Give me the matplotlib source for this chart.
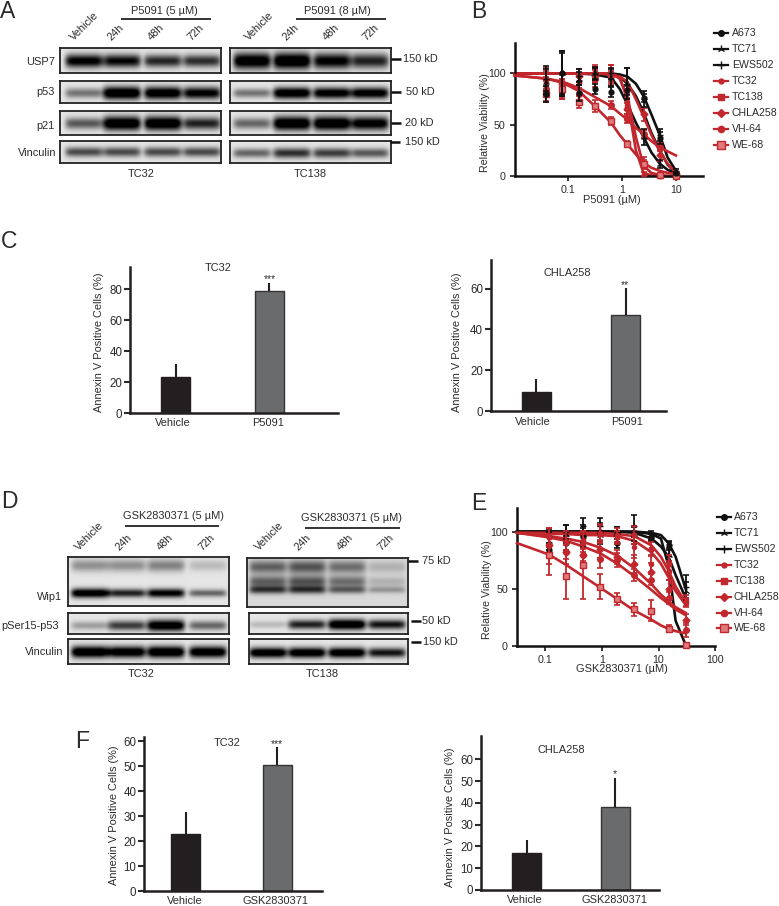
import numpy as np
import matplotlib
matplotlib.use("Agg")
import matplotlib.pyplot as plt

plt.rcParams['font.family'] = ['Liberation Sans', 'DejaVu Sans']

W, H = 779, 906
TXT = '#2b2b2b'
BLK = '#111111'
RED = '#c1272d'

# --- viability data, panel B ---
series_names = ['A673', 'TC71', 'EWS502', 'TC32', 'TC138', 'CHLA258', 'VH-64', 'WE-68']
series_colors = [BLK, BLK, BLK, RED, RED, RED, RED, RED]
series_markers = ['o', '2', '+', 'o', 's', 'D', 'o', 's']
series_sizes = [3.5, 5, 5, 3, 3.5, 3.5, 4, 5]

b_conc = [0.039, 0.078, 0.156, 0.3125, 0.625, 1.25, 2.5, 5, 10]
b_means = [
    [80, 100, 81, 85, 82, 84, 76, 37, 3],
    [92, 100, 95, 100, 96, 90, 38, 12, 3],
    [95, 100, 98, 100, 100, 90, 75, 40, 5],
    [92, 85, 98, 100, 100, 72, 2, 0, 0],
    [85, 85, 92, 100, 96, 68, 13, 0, 0],
    [95, 90, 98, 98, 98, 65, 60, 20, 2],
    [85, 83, 80, 95, 69, 56, 41, 28, 3],
    [80, 85, 72, 68, 54, 31, 12, 1, 0],
]
b_errs = [
    [8, 22, 8, 5, 5, 5, 4, 6, 1],
    [12, 20, 6, 6, 8, 15, 8, 4, 1],
    [12, 22, 6, 5, 5, 15, 8, 6, 2],
    [10, 10, 6, 8, 8, 8, 2, 1, 1],
    [12, 10, 6, 6, 6, 8, 6, 1, 1],
    [10, 10, 6, 6, 10, 6, 6, 5, 1],
    [8, 8, 6, 8, 4, 4, 4, 4, 1],
    [8, 8, 6, 6, 4, 3, 4, 1, 1],
]
b_curve_x = [0.0101, 0.039, 0.078, 0.156, 0.3125, 0.625, 0.9, 1.25, 1.8, 2.5, 3.5, 5, 7, 10]
b_curves = [
    [100, 100, 100, 100, 100, 99, 97, 90, 78, 62, 42, 25, 11, 3],
    [100, 100, 100, 100, 99, 96, 85, 70, 52, 38, 23, 12, 6, 3],
    [100, 100, 100, 100, 100, 100, 99, 97, 90, 78, 60, 40, 18, 5],
    [100, 100, 100, 100, 100, 100, 96, 75, 25, 3, 0.5, 0, 0, 0],
    [100, 100, 100, 100, 100, 100, 95, 78, 38, 10, 3, 1, 0, 0],
    [100, 100, 100, 100, 100, 99, 97, 92, 75, 58, 40, 24, 12, 3],
    [98, 95, 92, 86, 77, 68, 61, 55, 47, 41, 34, 28, 24, 20],
    [98, 95, 91, 83, 68, 52, 40, 31, 21, 13, 8, 5, 3, 2],
]

# --- viability data, panel E ---
e_conc = [0.117, 0.234, 0.469, 0.94, 1.88, 3.75, 7.5, 15, 30]
e_means = [
    [84, 90, 95, 100, 90, 98, 95, 88, 1],
    [92, 98, 98, 97, 100, 97, 96, 80, 48],
    [96, 100, 105, 105, 100, 105, 98, 85, 52],
    [95, 92, 93, 99, 97, 87, 72, 66, 38],
    [95, 91, 90, 98, 95, 97, 85, 72, 40],
    [88, 82, 80, 85, 78, 72, 65, 50, 23],
    [80, 82, 80, 76, 75, 62, 58, 42, 14],
    [80, 61, 71, 52, 41, 32, 31, 15, 1],
]
e_errs = [
    [3, 6, 8, 8, 4, 6, 3, 4, 1],
    [8, 8, 8, 8, 4, 8, 3, 6, 8],
    [6, 6, 7, 7, 4, 10, 3, 6, 10],
    [8, 8, 8, 8, 6, 10, 8, 8, 4],
    [8, 10, 8, 8, 6, 8, 6, 8, 5],
    [8, 6, 6, 8, 6, 8, 8, 8, 5],
    [8, 10, 8, 8, 6, 5, 5, 5, 6],
    [18, 20, 30, 11, 5, 6, 9, 3, 1],
]
e_curve_x = [0.032, 0.117, 0.234, 0.469, 0.94, 1.88, 3.75, 7.5, 11, 15, 20, 30]
e_curves = [
    [100, 100, 100, 100, 100, 100, 100, 98, 94, 70, 22, 1],
    [100, 100, 100, 100, 100, 100, 99, 94, 87, 78, 62, 42],
    [100, 100, 100, 100, 100, 100, 100, 99, 97, 90, 78, 50],
    [99, 99, 99, 99, 99, 98, 96, 88, 78, 66, 52, 38],
    [99, 98, 98, 97, 97, 96, 92, 82, 72, 60, 48, 36],
    [99, 96, 94, 91, 86, 79, 68, 54, 45, 39, 34, 29],
    [99, 95, 92, 87, 81, 72, 61, 49, 42, 37, 32, 27],
    [90, 80, 71, 61, 51, 41, 31, 23, 18, 15, 13, 11],
]

# --- annexin bars ---
c1_vals, c1_errs = [23, 79], [8.5, 5]
c2_vals, c2_errs = [9.5, 47], [6, 13.5]
f1_vals, f1_errs = [23, 50.5], [8.5, 7]
f2_vals, f2_errs = [17, 38.3], [6, 13]

# --- western blot band darkness, one value per lane ---
usp7_tc32 = [0.85, 0.8, 0.68, 0.65]
usp7_tc138 = [0.95, 1.0, 0.85, 0.7]
p53_tc32 = [0.4, 1.0, 0.95, 0.85]
p53_tc138 = [0.4, 0.95, 0.9, 0.9]
p21_tc32 = [0.5, 1.0, 1.0, 0.7]
p21_tc138 = [0.45, 1.0, 1.0, 0.9]
vinc_tc32 = [0.55, 0.55, 0.55, 0.55]
vinc_tc138 = [0.45, 0.65, 0.6, 0.5]
wip1_tc32 = [0.95, 0.7, 0.85, 0.45]
wip1_upper_tc32 = [0.3, 0.3, 0.35, 0.15]
wip1_tc138 = [0.6, 0.6, 0.45, 0.25]
wip1_upper_tc138 = [0.45, 0.5, 0.4, 0.15]
pser_tc32 = [0.25, 0.6, 0.95, 0.45]
pser_tc138 = [0.15, 0.7, 1.0, 0.75]
vinc2_tc32 = [1.0, 0.95, 1.0, 0.95]
vinc2_tc138 = [0.95, 0.95, 0.95, 0.75]

fig = plt.figure(figsize=(W / 100, H / 100), dpi=100)


def ax_px(x0, y0, x1, y1, **kw):
    # axes placed by pixel box, y counted from the top
    return fig.add_axes([x0 / W, 1 - y1 / H, (x1 - x0) / W, (y1 - y0) / H], **kw)


def blot(x0, y0, x1, y1, lanes, bands, bg=0.9, width=19):
    # bands: (centre as fraction of height, half thickness in px, darkness per lane)
    ax = ax_px(x0, y0, x1, y1)
    h, w = int(y1 - y0) * 2, int(x1 - x0) * 2
    xx = np.linspace(x0, x1, w)[None, :]
    yy = np.linspace(y0, y1, h)[:, None]
    img = np.ones((h, w))
    for frac, thick, dark in bands:
        yc = y0 + frac * (y1 - y0)
        for lx, d in zip(lanes, dark):
            t = thick * (0.75 + 0.45 * d)
            img = img - 1.25 * d * np.exp(-((xx - lx) / width) ** 8) * np.exp(-((yy - yc) / t) ** 2)
    ax.imshow(np.clip(img, 0, 1) * bg, cmap='gray', vmin=0, vmax=1, aspect='auto')
    ax.set_xticks([])
    ax.set_yticks([])
    for s in ax.spines.values():
        s.set_linewidth(1.3)
        s.set_color('#222222')


def bars(x0, y0, x1, y1, ymax, yticks, centers, vals, errs, width=29):
    ax = ax_px(x0, y0, x1, y1)
    ax.patch.set_alpha(0)
    ax.set_xlim(x0, x1)
    ax.set_ylim(0, ymax)
    ax.bar(centers, vals, width=width, color=['#231f20', '#6a6b6d'], edgecolor=['#231f20', '#333333'], linewidth=1)
    ax.errorbar(centers, vals, yerr=[[0, 0], errs], fmt='none', ecolor='#231f20', elinewidth=1.5, capsize=0)
    ax.spines[['top', 'right']].set_visible(False)
    ax.spines[['left', 'bottom']].set_linewidth(1.8)
    ax.spines[['left', 'bottom']].set_color('#231f20')
    ax.set_yticks(yticks)
    ax.set_xticks([])
    ax.tick_params(axis='y', length=4, width=1.5, labelsize=8.3, pad=1.5, colors=TXT)


def viability(x0, y0, x1, y1, xlim, ymax, conc, means, errs, curve_x, curves, xticks, xlabels, black_top=False):
    ax = ax_px(x0, y0, x1, y1)
    ax.patch.set_alpha(0)
    ax.set_xscale('log')
    ax.set_xlim(*xlim)
    ax.set_ylim(0, ymax)
    for i in range(len(means)):
        c = series_colors[i]
        z = i * 0.1
        if black_top and c == BLK:
            z = 1 + i * 0.1
        mfc = '#dd7a7d' if series_names[i] == 'WE-68' else c
        ax.plot(curve_x, curves[i], color=c, lw=1.9, zorder=2 + i * 0.1, clip_on=False)
        ax.errorbar(conc, means[i], yerr=errs[i], fmt=series_markers[i], color=c, mfc=mfc, ms=series_sizes[i],
                    elinewidth=1.3, capsize=2, capthick=1.2, zorder=3 + z, clip_on=False)
    ax.spines[['top', 'right']].set_visible(False)
    ax.spines[['left', 'bottom']].set_linewidth(1.8)
    ax.spines[['left', 'bottom']].set_color('#111111')
    ax.set_yticks([0, 50, 100])
    ax.set_xticks(xticks)
    ax.set_xticklabels(xlabels)
    ax.minorticks_off()
    ax.tick_params(axis='both', length=3.5, width=1.3, labelsize=7.7, pad=3, colors=TXT)


# panel A blots
lanes_a1 = [84, 122, 163, 202]
lanes_a2 = [252, 292, 332, 370]
blot(60, 48, 221, 73, lanes_a1, [(0.52, 6, usp7_tc32)])
blot(230, 48, 391, 73, lanes_a2, [(0.52, 7, usp7_tc138)])
blot(60, 81, 221, 103, lanes_a1, [(0.55, 5.5, p53_tc32)])
blot(230, 81, 391, 103, lanes_a2, [(0.55, 5, p53_tc138)])
blot(60, 111, 221, 135, lanes_a1, [(0.52, 6, p21_tc32)])
blot(230, 111, 391, 135, lanes_a2, [(0.52, 6, p21_tc138)])
blot(60, 141, 221, 163, lanes_a1, [(0.5, 5, vinc_tc32)])
blot(230, 141, 391, 163, lanes_a2, [(0.55, 5, vinc_tc138)])

# panel D blots
lanes_d1 = [90, 127, 166, 208]
lanes_d2 = [268, 307, 347, 387]
blot(68, 557, 229, 606, lanes_d1, [(0.17, 7, wip1_upper_tc32), (0.74, 4, wip1_tc32)])
blot(247, 558, 408, 607, lanes_d2, [(0.18, 7, wip1_upper_tc138), (0.48, 6, wip1_upper_tc138), (0.65, 4, wip1_tc138)], bg=0.85)
blot(68, 613, 229, 634, lanes_d1, [(0.6, 5, pser_tc32)])
blot(249, 613, 408, 634, lanes_d2, [(0.55, 4.5, pser_tc138)])
blot(68, 639, 229, 664, lanes_d1, [(0.52, 5, vinc2_tc32)])
blot(249, 639, 408, 664, lanes_d2, [(0.55, 4.5, vinc2_tc138)])

# viability curves
viability(514.7, 42.7, 703, 176, (0.0101, 31.8), 130, b_conc, b_means, b_errs, b_curve_x, b_curves,
          [0.1, 1, 10], ['0.1', '1', '10'], black_top=True)
viability(517, 508, 715.3, 646, (0.032, 100), 120.7, e_conc, e_means, e_errs, e_curve_x, e_curves,
          [0.1, 1, 10, 100], ['0.1', '1', '10', '100'])

# bar panels
bars(130, 267, 338, 413, 94.4, [0, 20, 40, 60, 80], [175.5, 269], c1_vals, c1_errs)
bars(490.7, 260, 666, 411, 74, [0, 20, 40, 60], [536, 625.5], c2_vals, c2_errs)
bars(144, 737, 322, 891, 61.7, [0, 10, 20, 30, 40, 50, 60], [185.5, 277], f1_vals, f1_errs)
bars(481, 736, 659, 890, 70.7, [0, 10, 20, 30, 40, 50, 60], [526.5, 615], f2_vals, f2_errs)

# everything else goes on a pixel overlay
ov = ax_px(0, 0, W, H)
ov.set_xlim(0, W)
ov.set_ylim(H, 0)
ov.axis('off')
ov.patch.set_alpha(0)


def txt(x, y, s, size=7.9, ha='center', va='center', rot=0, **kw):
    ov.text(x, y, s, fontsize=size, ha=ha, va=va, rotation=rot, color=TXT, **kw)


def hline(x0, x1, y, lw=1.2):
    ov.plot([x0, x1], [y, y], color='#111111', lw=lw, solid_capstyle='butt')


# panel letters
for letter, x, y in [('A', 0, 11), ('B', 471, 11), ('C', 1, 241), ('D', 1, 502), ('E', 471, 503), ('F', 75, 742)]:
    txt(x, y, letter, size=16.5, ha='left')

# lane headers
lane_names = ['Vehicle', '24h', '48h', '72h']
for xs, ys in [([75, 113, 153, 193], 42), ([250, 288, 328, 368], 42),
               ([80, 121, 162, 204], 552), ([260, 300, 342, 383], 552)]:
    for x, name in zip(xs, lane_names):
        txt(x, ys, name, ha='left', va='bottom', rot=45, rotation_mode='anchor')

txt(164, 11, 'P5091 (5 µM)')
hline(121, 211, 19)
txt(337, 11, 'P5091 (8 µM)')
hline(296, 386, 19)
txt(174, 516, 'GSK2830371 (5 µM)')
hline(125, 219, 526)
txt(352, 518, 'GSK2830371 (5 µM)')
hline(305, 400, 528)

# row names
for name, x, y in [('USP7', 55, 62), ('p53', 55, 92), ('p21', 55, 126), ('Vinculin', 56, 153),
                   ('Wip1', 62, 597), ('pSer15-p53', 59, 626), ('Vinculin', 63, 652)]:
    txt(x, y, name, ha='right')

# size markers
for x0, x1, y, label, xt in [(391, 401, 59, '150 kD', 403), (391, 401, 92, '50 kD', 406), (391, 401, 123, '20 kD', 405),
                             (390, 400, 142, '150 kD', 405), (408, 418, 561, '75 kD', 422),
                             (411, 421, 621, '50 kD', 422), (411, 421, 642, '150 kD', 423)]:
    hline(x0, x1, y, lw=1.8)
    txt(xt, y, label, ha='left')

txt(141, 174, 'TC32')
txt(310, 174, 'TC138')
txt(141, 674, 'TC32')
txt(322, 674, 'TC138')

# axis captions
txt(485, 123, 'Relative Viability (%)', size=7.7, rot=90)
txt(487, 590, 'Relative Viability (%)', size=7.7, rot=90)
txt(612, 200, 'P5091 (µM)')
txt(622, 669, 'GSK2830371 (µM)')
txt(99, 342, 'Annexin V Positive Cells (%)', rot=90)
txt(457, 342, 'Annexin V Positive Cells (%)', rot=90)
txt(114, 815, 'Annexin V Positive Cells (%)', rot=90)
txt(450, 817, 'Annexin V Positive Cells (%)', rot=90)

# bar labels, titles and stars
for x, y, s in [(173, 423, 'Vehicle'), (268, 423, 'P5091'), (533, 422, 'Vehicle'), (627, 422, 'P5091'),
                (185, 901, 'Vehicle'), (276, 901, 'GSK2830371'), (525, 900, 'Vehicle'), (615, 900, 'GSK2830371'),
                (218, 268, 'TC32'), (567, 273, 'CHLA258'), (227, 743, 'TC32'), (561, 750, 'CHLA258')]:
    txt(x, y, s)
for x, y, s in [(270, 279, '***'), (625, 285, '**'), (277, 744, '***'), (615, 774, '*')]:
    txt(x, y, s, size=7.4)

# hand placed legends
for (lx0, lx1, tx, ys) in [(714, 728, 732, [33, 49, 65, 81, 97, 113, 129, 144.5]),
                           (717, 731, 734, [517, 533, 549, 565, 581, 597, 613, 628])]:
    for i, y in enumerate(ys):
        mfc = '#dd7a7d' if series_names[i] == 'WE-68' else series_colors[i]
        ov.plot([lx0, lx1], [y, y], color=series_colors[i], lw=1.6)
        ov.plot([(lx0 + lx1) / 2], [y], color=series_colors[i], mfc=mfc, marker=series_markers[i], ms=series_sizes[i] + 0.5)
        txt(tx, y, series_names[i], size=7.6, ha='left')

fig.savefig('out.png', dpi=100, facecolor='white')
